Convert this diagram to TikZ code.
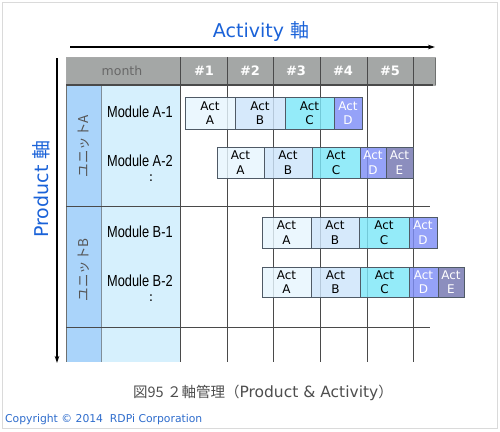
\documentclass[tikz,border=0pt]{standalone}
\usepackage{fontspec}
\setmainfont{DejaVu Sans}
\newfontfamily\cjk{Noto Sans CJK JP}
\newfontfamily\narrowsans[FakeStretch=0.8]{Liberation Sans}
\usetikzlibrary{arrows.meta}
\definecolor{titleblue}{HTML}{1A62D8}
\definecolor{copyblue}{HTML}{2E6CCC}
\definecolor{hdrgray}{HTML}{A4A7A6}
\definecolor{hdrline}{HTML}{6E706F}
\definecolor{gridline}{HTML}{4A4A4A}
\definecolor{unitfill}{HTML}{AAD4FA}
\definecolor{modfill}{HTML}{D6F0FD}
\definecolor{fillA}{HTML}{E6F5FE}
\definecolor{fillB}{HTML}{CDE4FA}
\definecolor{fillC}{HTML}{7DE6F8}
\definecolor{fillD}{HTML}{7E8EF6}
\definecolor{fillE}{HTML}{7375B0}
\definecolor{barline}{HTML}{4F5A66}
\definecolor{frame}{HTML}{DADADA}
\definecolor{captiongray}{HTML}{4E4E4E}
\definecolor{monthgray}{HTML}{686868}
\definecolor{unitgray}{HTML}{555555}
\newcommand\actbox[7]{%
  \node[bar,#6,minimum width={(#3-#2)*1pt},minimum height={(#5-#4)*1pt}] (#1) at ({(#2+#3)/2},{(#4+#5)/2}) {Act\\#7};}
\tikzset{
  bar/.style={draw=barline, line width=0.6pt, inner sep=0pt, align=center,
    font=\fontsize{12}{14.5}\selectfont, fill opacity=0.82, text opacity=1},
  barA/.style={fill=fillA, text=black},
  barB/.style={fill=fillB, text=black},
  barC/.style={fill=fillC, text=black},
  barD/.style={fill=fillD, text=white},
  barE/.style={fill=fillE, text=white},
  hdr/.style={text=white, font=\fontsize{13}{15}\selectfont\bfseries},
  modlabel/.style={anchor=west, inner sep=0pt, font=\narrowsans\fontsize{16}{18}\selectfont},
  unitlabel/.style={rotate=90, text=unitgray, font=\cjk\fontsize{13.5}{15}\selectfont},
  axistitle/.style={text=titleblue, font=\fontsize{19}{23}\selectfont},
  gridl/.style={draw=gridline, line width=0.8pt},
  axisarrow/.style={draw=black, line width=1.1pt, -{Stealth[length=7pt,width=4.5pt]}}
}
\begin{document}
\begin{tikzpicture}[x=1pt,y=-1pt]
\useasboundingbox (0,0) rectangle (500,431);
% outer frame
\draw[frame, line width=1pt] (2,2) rectangle (497,428);
% titles
\node[axistitle] (acttitle) at (261,31) {Activity {\cjk 軸}};
\node[axistitle, rotate=90] (prodtitle) at (41,189) {Product {\cjk 軸}};
% axis arrows
\coordinate (hA) at (70,47);
\coordinate (hB) at (435,47);
\coordinate (vA) at (57,58);
\coordinate (vB) at (57,363);
\draw[axisarrow] (hA) -- (hB);
\draw[axisarrow] (vA) -- (vB);
% columns
\fill[unitfill] (66,85) rectangle (101,362);
\fill[modfill] (101,85) rectangle (180,362);
\draw[draw=hdrline, line width=0.8pt] (66,85) -- (66,362);
\draw[draw=hdrline!70!unitfill, line width=0.8pt] (101,85) -- (101,362);
% header
\fill[hdrgray] (66,57) rectangle (435,85);
\draw[draw=hdrline!60, line width=0.6pt] (66,57) rectangle (435,85);
\draw[draw=gridline, line width=1.2pt] (66,85) -- (433,85);
\draw[draw=hdrline, line width=1pt] (435,58) -- (435,85);
% vertical grid lines
\foreach \x in {180,227,273,320,367,413} {
  \draw[gridl] (\x,57) -- (\x,362);
}
% horizontal grid lines
\draw[gridl] (66,206) -- (430,206);
\draw[gridl] (66,327) -- (430,327);
% header labels
\node[text=monthgray, font=\fontsize{12.5}{15}\selectfont] (month) at (122,71) {month};
\node[hdr] (c1) at (204,71) {\#1};
\node[hdr] (c2) at (250,71) {\#2};
\node[hdr] (c3) at (296,71) {\#3};
\node[hdr] (c4) at (343,71) {\#4};
\node[hdr] (c5) at (390,71) {\#5};
% unit labels
\node[unitlabel] (unitA) at (84,146) {ユニットA};
\node[unitlabel] (unitB) at (84,270) {ユニットB};
% module labels
\node[modlabel] (modA1) at (107,112) {Module A-1};
\node[modlabel] (modA2) at (107,161) {Module A-2};
\node[font=\fontsize{13}{15}\selectfont] (dotsA) at (151,178) {:};
\node[modlabel] (modB1) at (107,232) {Module B-1};
\node[modlabel] (modB2) at (107,281) {Module B-2};
\node[font=\fontsize{13}{15}\selectfont] (dotsB) at (151,298) {:};
% bars row A-1
\actbox{a1A}{185}{235}{97}{129}{barA}{A}
\actbox{a1B}{235}{285}{97}{129}{barB}{B}
\actbox{a1C}{285}{334}{97}{129}{barC}{C}
\actbox{a1D}{334}{362}{97}{129}{barD}{D}
% bars row A-2
\actbox{a2A}{217}{264}{147}{178}{barA}{A}
\actbox{a2B}{264}{312}{147}{178}{barB}{B}
\actbox{a2C}{312}{360}{147}{178}{barC}{C}
\actbox{a2D}{360}{386}{147}{178}{barD}{D}
\actbox{a2E}{386}{413}{147}{178}{barE}{E}
% bars row B-1
\actbox{b1A}{262}{311}{217}{248}{barA}{A}
\actbox{b1B}{311}{359}{217}{248}{barB}{B}
\actbox{b1C}{359}{409}{217}{248}{barC}{C}
\actbox{b1D}{409}{437}{217}{248}{barD}{D}
% bars row B-2
\actbox{b2A}{262}{311}{267}{297}{barA}{A}
\actbox{b2B}{311}{360}{267}{297}{barB}{B}
\actbox{b2C}{360}{409}{267}{297}{barC}{C}
\actbox{b2D}{409}{438}{267}{297}{barD}{D}
\actbox{b2E}{438}{464}{267}{297}{barE}{E}
% caption
\node[text=captiongray, font=\cjk\fontsize{14.5}{18}\selectfont] (caption) at (263,393) {図95 ２軸管理（{\fontspec{DejaVu Sans}\fontsize{15.5}{18}\selectfont Product \& Activity}）};
\node[anchor=west, inner sep=0pt, text=copyblue, font=\fontsize{10.8}{13}\selectfont] (copyright) at (5,420) {Copyright © 2014\ \ RDPi Corporation};
\end{tikzpicture}
\end{document}
